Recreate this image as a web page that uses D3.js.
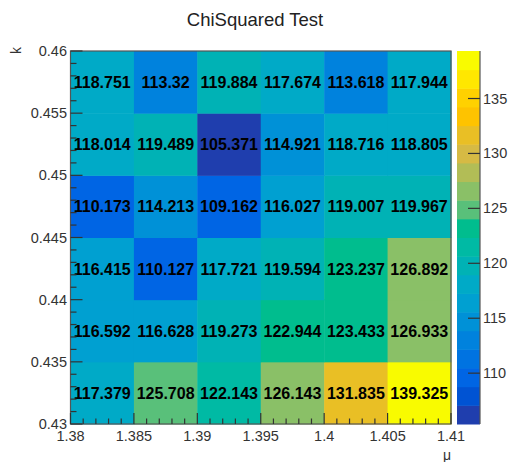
<!DOCTYPE html>
<html>
<head>
<meta charset="utf-8">
<script src="https://cdn.jsdelivr.net/npm/d3@7"></script>
<style>
  html, body { margin: 0; padding: 0; background: #fff; }
  svg { display: block; font-family: "Liberation Sans", Arial, Helvetica, sans-serif; }
</style>
</head>
<body>
<svg id="chart" width="513" height="462"></svg>
<script>
// bin edges (mu on x, k on y)
var MU_EDGES = [1.38, 1.385, 1.39, 1.395, 1.4, 1.405, 1.41];
var K_EDGES = [0.43, 0.435, 0.44, 0.445, 0.45, 0.455, 0.46];
var MU_TICKS = ["1.38", "1.385", "1.39", "1.395", "1.4", "1.405", "1.41"];
var K_TICKS = ["0.43", "0.435", "0.44", "0.445", "0.45", "0.455", "0.46"];
var Z_TICKS = [110, 115, 120, 125, 130, 135];

// chi2 values, rows from bottom (k=0.43) to top (k=0.455)
var ROW_0 = [117.379, 125.708, 122.143, 126.143, 131.835, 139.325];
var ROW_1 = [116.592, 116.628, 119.273, 122.944, 123.433, 126.933];
var ROW_2 = [116.415, 110.127, 117.721, 119.594, 123.237, 126.892];
var ROW_3 = [110.173, 114.213, 109.162, 116.027, 119.007, 119.967];
var ROW_4 = [118.014, 119.489, 105.371, 114.921, 118.716, 118.805];
var ROW_5 = [118.751, 113.32, 119.884, 117.674, 113.618, 117.944];
var ROWS = [ROW_0, ROW_1, ROW_2, ROW_3, ROW_4, ROW_5];
var N_LEVELS = 20;

// ROOT kBird palette
var BIRD_STOPS = [0, 0.125, 0.25, 0.375, 0.5, 0.625, 0.75, 0.875, 1];
var BIRD_R = [0.2082, 0.0592, 0.0780, 0.0232, 0.1802, 0.5301, 0.8186, 0.9956, 0.9764];
var BIRD_G = [0.1664, 0.3599, 0.5041, 0.6419, 0.7178, 0.7492, 0.7328, 0.7862, 0.9832];
var BIRD_B = [0.5293, 0.8684, 0.8385, 0.7914, 0.6425, 0.4662, 0.3499, 0.1968, 0.0539];

// the screenshot looks like sRGB values shown on a P3 screen; mimic that
function lin(c){ return c <= 0.04045 ? c / 12.92 : Math.pow((c + 0.055) / 1.055, 2.4); }
function gam(c){ c = Math.max(0, Math.min(1, c)); return c <= 0.0031308 ? 12.92 * c : 1.055 * Math.pow(c, 1 / 2.4) - 0.055; }
function p3look(r, g, b){
  var R = lin(r), G = lin(g), B = lin(b);
  return d3.rgb(
    gam(1.2249 * R - 0.2247 * G) * 255,
    gam(-0.0420 * R + 1.0419 * G) * 255,
    gam(-0.0197 * R - 0.0786 * G + 1.0979 * B) * 255
  ).toString();
}

function bird(t){
  var c = [BIRD_R, BIRD_G, BIRD_B].map(function(ch){
    return d3.scaleLinear().domain(BIRD_STOPS).range(ch).clamp(true)(t);
  });
  return p3look(c[0], c[1], c[2]);
}
function levelColor(i){
  var idx = Math.floor((i + 0.99) * 255 / N_LEVELS);
  return bird(Math.min(idx, 254) / 254);
}

var cells = [];
ROWS.forEach(function(row, j){
  row.forEach(function(v, i){ cells.push({ i: i, j: j, v: v }); });
});
var zMin = d3.min(cells, function(d){ return d.v; });
var zMax = d3.max(cells, function(d){ return d.v; });
var dz = (zMax - zMin) / N_LEVELS;
function levelOf(v){ return Math.max(0, Math.min(N_LEVELS - 1, Math.floor((v - zMin) / dz))); }

var svg = d3.select("#chart");
var L = 70.5, R = 451, T = 51, B = 424;
var x = d3.scaleLinear().domain([1.38, 1.41]).range([L, R]);
var y = d3.scaleLinear().domain([0.43, 0.46]).range([B, T]);
var zy = d3.scaleLinear().domain([zMin, zMax]).range([B, T]);

// cells
svg.append("g").selectAll("rect").data(cells).enter().append("rect")
  .attr("x", function(d){ return x(MU_EDGES[d.i]); })
  .attr("y", function(d){ return y(K_EDGES[d.j + 1]); })
  .attr("width", function(d){ return x(MU_EDGES[d.i + 1]) - x(MU_EDGES[d.i]) + 0.5; })
  .attr("height", function(d){ return y(K_EDGES[d.j]) - y(K_EDGES[d.j + 1]) + 0.5; })
  .attr("fill", function(d){ return levelColor(levelOf(d.v)); });

svg.append("g").selectAll("text").data(cells).enter().append("text")
  .attr("x", function(d){ return (x(MU_EDGES[d.i]) + x(MU_EDGES[d.i + 1])) / 2; })
  .attr("y", function(d){ return (y(K_EDGES[d.j]) + y(K_EDGES[d.j + 1])) / 2 + 6; })
  .attr("text-anchor", "middle")
  .attr("font-size", 16).attr("font-weight", "bold").attr("fill", "#000")
  .text(function(d){ return d.v; });

// frame
svg.append("rect").attr("x", L).attr("y", T).attr("width", R - L).attr("height", B - T)
  .attr("fill", "none").attr("stroke", "#555").attr("stroke-width", 1.2);

// x axis ticks (inside, pointing up)
var xMinor = d3.range(0, 31).map(function(k){ return 1.38 + k * 0.001; });
svg.append("g").selectAll("line").data(xMinor).enter().append("line")
  .attr("x1", function(d){ return x(d); }).attr("x2", function(d){ return x(d); })
  .attr("y1", B).attr("y2", function(d, k){ return k % 5 === 0 ? B - 11 : B - 5.5; })
  .attr("stroke", "#333").attr("stroke-width", 1.2);
svg.append("g").selectAll("text").data(MU_TICKS).enter().append("text")
  .attr("x", function(d){ return x(+d); }).attr("y", 441)
  .attr("text-anchor", "middle").attr("font-size", 14.5).attr("fill", "#333")
  .text(function(d){ return d; });

// y axis ticks (inside, pointing right)
var yMinor = d3.range(0, 31).map(function(k){ return 0.43 + k * 0.001; });
svg.append("g").selectAll("line").data(yMinor).enter().append("line")
  .attr("y1", function(d){ return y(d); }).attr("y2", function(d){ return y(d); })
  .attr("x1", L).attr("x2", function(d, k){ return k % 5 === 0 ? L + 12 : L + 6; })
  .attr("stroke", "#333").attr("stroke-width", 1.2);
svg.append("g").selectAll("text").data(K_TICKS).enter().append("text")
  .attr("x", 67).attr("y", function(d){ return y(+d) + 5; })
  .attr("text-anchor", "end").attr("font-size", 14.5).attr("fill", "#333")
  .text(function(d){ return d; });

// axis titles
svg.append("text").attr("transform", "translate(21,47) rotate(-90)")
  .attr("text-anchor", "end").attr("font-size", 14).attr("fill", "#333").text("k");
svg.append("text").attr("x", 451).attr("y", 460)
  .attr("text-anchor", "end").attr("font-size", 14).attr("fill", "#333").text("μ");

// title
svg.append("text").attr("x", 255).attr("y", 26).attr("text-anchor", "middle")
  .attr("font-size", 18.5).attr("fill", "#222").text("ChiSquared Test");

// colour bar
var PL = 457, PR = 480;
var levels = d3.range(N_LEVELS);
svg.append("g").selectAll("rect").data(levels).enter().append("rect")
  .attr("x", PL).attr("width", PR - PL)
  .attr("y", function(i){ return zy(zMin + (i + 1) * dz); })
  .attr("height", function(i){ return zy(zMin + i * dz) - zy(zMin + (i + 1) * dz) + 0.5; })
  .attr("fill", function(i){ return levelColor(i); });
svg.append("line").attr("x1", PR).attr("x2", PR).attr("y1", T).attr("y2", B)
  .attr("stroke", "#555").attr("stroke-width", 1.2);
svg.append("g").selectAll("line").data(Z_TICKS).enter().append("line")
  .attr("x1", PR - 12).attr("x2", PR)
  .attr("y1", function(d){ return zy(d); }).attr("y2", function(d){ return zy(d); })
  .attr("stroke", "#333").attr("stroke-width", 1.2);
svg.append("g").selectAll("text").data(Z_TICKS).enter().append("text")
  .attr("x", 483).attr("y", function(d){ return zy(d) + 5; })
  .attr("font-size", 14.5).attr("fill", "#333")
  .text(function(d){ return d; });
</script>
</body>
</html>
